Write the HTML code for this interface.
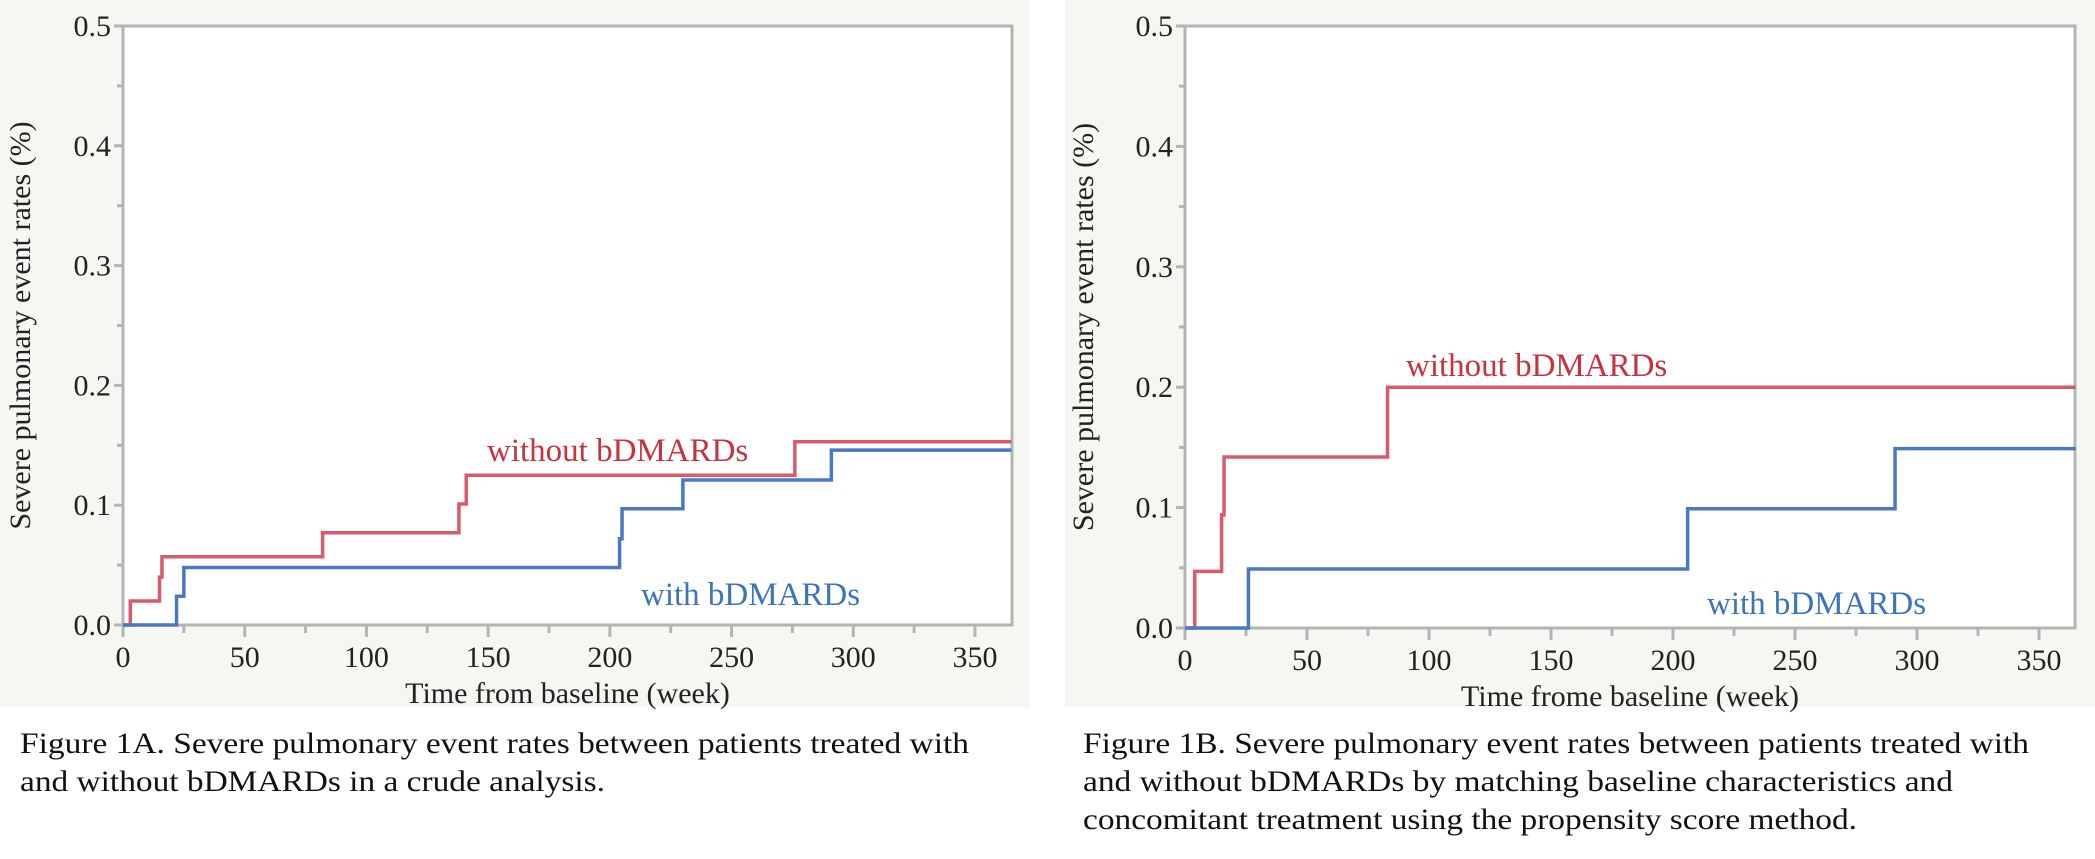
<!DOCTYPE html>
<html><head><meta charset="utf-8">
<style>
html,body{margin:0;padding:0;background:#fff;}
svg{display:block;font-family:"Liberation Serif",serif;}
</style></head>
<body>
<svg id="svg" width="2095" height="859" viewBox="0 0 2095 859">
<rect x="0" y="0" width="1030" height="707" fill="#f6f6f3"/>
<rect x="1065" y="0" width="1030" height="707" fill="#f6f6f3"/>
<text x="20" y="753" font-size="30" textLength="949" lengthAdjust="spacingAndGlyphs" fill="#111">Figure 1A. Severe pulmonary event rates between patients treated with</text>
<text x="20" y="791" font-size="30" textLength="585" lengthAdjust="spacingAndGlyphs" fill="#111">and without bDMARDs in a crude analysis.</text>
<text x="1083" y="753" font-size="30" textLength="946" lengthAdjust="spacingAndGlyphs" fill="#111">Figure 1B. Severe pulmonary event rates between patients treated with</text>
<text x="1083" y="791" font-size="30" textLength="870" lengthAdjust="spacingAndGlyphs" fill="#111">and without bDMARDs by matching baseline characteristics and</text>
<text x="1083" y="829" font-size="30" textLength="774" lengthAdjust="spacingAndGlyphs" fill="#111">concomitant treatment using the propensity score method.</text>
</svg>
<script>
const xTicks = [0,50,100,150,200,250,300,350];
const yTicks = [0.0,0.1,0.2,0.3,0.4,0.5];
const yTickLabels = ["0.0","0.1","0.2","0.3","0.4","0.5"];
const aRedX = [0,3,15,16,82,138,141,276,365];
const aRedY = [0,0.02,0.04,0.057,0.077,0.101,0.125,0.153,0.153];
const aBlueX = [0,22,25,204,205,230,291,365];
const aBlueY = [0,0.024,0.048,0.072,0.097,0.121,0.146,0.146];
const bRedX = [0,4,15,16,83,365];
const bRedY = [0,0.047,0.094,0.142,0.2,0.2];
const bBlueX = [0,26,206,291,365];
const bBlueY = [0,0.049,0.099,0.149,0.149];

const NS="http://www.w3.org/2000/svg";
const svg=document.getElementById('svg');
function mk(tag,attrs,parent){const e=document.createElementNS(NS,tag);for(const k in attrs)e.setAttribute(k,attrs[k]);(parent||svg).appendChild(e);return e;}

function chart(cfg){
  const g=mk('g',{});
  
  
  const L=cfg.left,R=cfg.right,T=26,B=cfg.bottom,x350=cfg.x350;
  const sx=v=>L+(x350-L)*v/350;
  const sy=v=>B-(B-T)*v/0.5;
  const plot=mk('rect',{x:L,y:T,width:R-L,height:B-T,fill:'#fff',stroke:'#b4b4b4','stroke-width':3},g);
  
  
  for(let i=0;i<=10;i++){
    const v=i*0.05,y=sy(v);
    const t=mk('line',{x1:L-(i%2?6:9),x2:L,y1:y,y2:y,stroke:'#b4b4b4','stroke-width':3},g);
    
    
  }
  yTicks.forEach((v,i)=>{
    const t=mk('text',{x:L-12,y:sy(v)+10,'font-size':30,'text-anchor':'end',fill:'#222'},g);
    t.textContent=yTickLabels[i];
    
    
  });
  for(let v=0;v<=364;v+=25){
    const x=sx(v);
    const t=mk('line',{x1:x,x2:x,y1:B,y2:B+(v%50?8:12),stroke:'#b4b4b4','stroke-width':3},g);
    
    
  }
  xTicks.forEach(v=>{
    const t=mk('text',{x:sx(v),y:B+42,'font-size':30,'text-anchor':'middle',fill:'#222'},g);
    t.textContent=String(v);
    
    
  });
  const xt=mk('text',{x:(L+R)/2,y:B+78,'font-size':30,'text-anchor':'middle',fill:'#222'},g);
  xt.textContent=cfg.xTitle;
  
  
  const yt=mk('text',{x:0,y:0,'font-size':30,'text-anchor':'middle',fill:'#222',transform:`translate(${cfg.yTitleX},${(T+B)/2}) rotate(-90)`},g);
  yt.textContent='Severe pulmonary event rates (%)';
  
  
  function step(xs,ys,color,name){
    let d=`M${sx(xs[0])},${sy(ys[0])}`;
    for(let i=1;i<xs.length;i++){d+=` H${sx(xs[i])} V${sy(ys[i])}`;}
    const p=mk('path',{d:d,fill:'none',stroke:color,'stroke-width':3.5},g);
    
    
  }
  step(cfg.redX,cfg.redY,'#d95a6c','without-bdmards-line');
  step(cfg.blueX,cfg.blueY,'#4a78c2','with-bdmards-line');
  const l1=mk('text',{x:cfg.redLab[0],y:cfg.redLab[1],'font-size':33,fill:'#c8323f'},g);
  l1.textContent='without bDMARDs';
  
  
  const l2=mk('text',{x:cfg.blueLab[0],y:cfg.blueLab[1],'font-size':33,fill:'#3b74bc'},g);
  l2.textContent='with bDMARDs';
  
  
}
chart({id:'chart-1a',left:123,right:1012,bottom:625,x350:975,yTitleX:30,xTitle:'Time from baseline (week)',
  redX:aRedX,redY:aRedY,blueX:aBlueX,blueY:aBlueY,redLab:[487,461],blueLab:[641,605]});
chart({id:'chart-1b',left:1185,right:2075,bottom:628,x350:2039,yTitleX:1093,xTitle:'Time frome baseline (week)',
  redX:bRedX,redY:bRedY,blueX:bBlueX,blueY:bBlueY,redLab:[1406,376],blueLab:[1707,614]});
</script>
</body></html>
